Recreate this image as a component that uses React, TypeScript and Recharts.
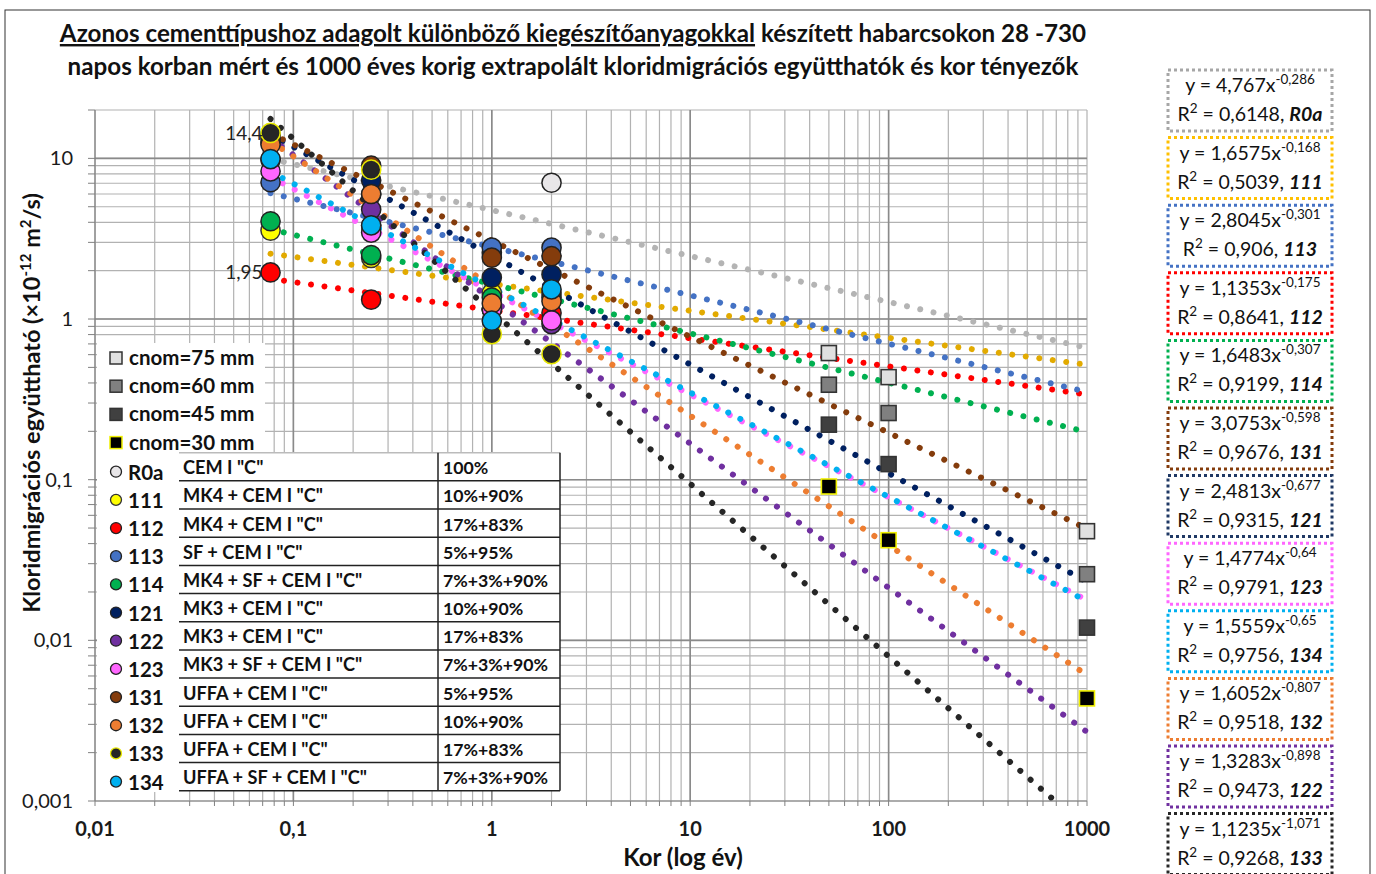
import React from 'react';
import { ComposedChart, Line, Scatter, XAxis, YAxis, CartesianGrid, ReferenceLine } from 'recharts';

// ---------- DATA ----------
const ages = [0.0767, 0.2466, 1, 2]; // 28 nap, 90 nap, 1 év, 2 év
const seriesNames = ["R0a", "111", "112", "113", "114", "121", "122", "123", "131", "132", "133", "134"];
const D_R0a = [9.8, 5.95, 2.6, 7.05];
const D_111 = [3.55, 2.4, 1.45, 1.45];
const D_112 = [1.95, 1.32, 1.15, 1.09];
const D_113 = [7.1, 3.8, 2.78, 2.78];
const D_114 = [4.06, 2.5, 1.36, 1.36];
const D_121 = [14.0, 7.3, 1.81, 1.89];
const D_122 = [12.5, 4.8, 1.15, 0.93];
const D_123 = [8.3, 3.45, 1.15, 0.98];
const D_131 = [13.3, 9.0, 2.41, 2.46];
const D_132 = [12.2, 6.0, 1.25, 1.29];
const D_133 = [14.4, 8.5, 0.806, 0.605];
const D_134 = [9.9, 3.83, 0.976, 1.53];
const measured = [D_R0a, D_111, D_112, D_113, D_114, D_121, D_122, D_123, D_131, D_132, D_133, D_134];

// trend lines (power law -> straight in log-log): start and end points
const trendStartX = [0.0767, 0.0767, 0.0767, 0.0767, 0.0767, 0.0767, 0.0767, 0.0767, 0.0767, 0.0767, 0.0767, 0.0767];
const trendStartY = [9.93, 2.55, 1.78, 6.08, 3.63, 14.1, 13.3, 7.64, 14.3, 12.75, 17.6, 8.26];
const trendEndX = [1000, 1000, 1000, 1000, 1000, 1000, 1000, 1000, 1000, 1000, 690, 1000];
const trendEndY = [0.661, 0.519, 0.339, 0.351, 0.198, 0.0231, 0.00269, 0.0178, 0.0494, 0.00609, 0.001, 0.0175];

const markerFill = ["#e8e6e8", "#ffff00", "#ff0000", "#4472c4", "#00b050", "#002060", "#7030a0", "#ff66ff", "#843c0c", "#ed7d31", "#262626", "#00b0f0"];
const markerStroke = ["#222", "#333", "#222", "#222", "#222", "#222", "#222", "#222", "#222", "#222", "#e8e800", "#222"];
const trendColor = ["#b4b4b4", "#e2aa00", "#ff0000", "#4472c4", "#00b050", "#002060", "#7030a0", "#ff66ff", "#843c0c", "#ed7d31", "#262626", "#00b0f0"];
const labelledSeries = ["112", "133"]; // first point labelled

const serviceLife = [50, 100, 1000];
const cnomLabels = ["cnom=75 mm", "cnom=60 mm", "cnom=45 mm", "cnom=30 mm"];
const Dreq_75 = [0.614, 0.435, 0.0478];
const Dreq_60 = [0.39, 0.26, 0.0258];
const Dreq_45 = [0.22, 0.125, 0.012];
const Dreq_30 = [0.0907, 0.042, 0.00435];
const Dreq = [Dreq_75, Dreq_60, Dreq_45, Dreq_30];
const cnomFill = ["#e0e0e0", "#808080", "#404040", "#000000"];
const cnomStroke = ["#333", "#333", "#333", "#f0f000"];

const mixComponents = ['CEM I "C"', 'MK4 + CEM I "C"', 'MK4 + CEM I "C"', 'SF + CEM I "C"', 'MK4 + SF + CEM I "C"', 'MK3 + CEM I "C"', 'MK3 + CEM I "C"', 'MK3 + SF + CEM I "C"', 'UFFA + CEM I "C"', 'UFFA + CEM I "C"', 'UFFA + CEM I "C"', 'UFFA + SF + CEM I "C"'];
const mixRatios = ["100%", "10%+90%", "17%+83%", "5%+95%", "7%+3%+90%", "10%+90%", "17%+83%", "7%+3%+90%", "5%+95%", "10%+90%", "17%+83%", "7%+3%+90%"];

const eqNames = ["R0a", "111", "113", "112", "114", "131", "121", "123", "134", "132", "122", "133"];
const eqA = ["4,767", "1,6575", "2,8045", "1,1353", "1,6483", "3,0753", "2,4813", "1,4774", "1,5559", "1,6052", "1,3283", "1,1235"];
const eqB = ["-0,286", "-0,168", "-0,301", "-0,175", "-0,307", "-0,598", "-0,677", "-0,64", "-0,65", "-0,807", "-0,898", "-1,071"];
const eqR2 = ["0,6148", "0,5039", "0,906", "0,8641", "0,9199", "0,9676", "0,9315", "0,9791", "0,9756", "0,9518", "0,9473", "0,9268"];
const eqColor = ["#a6a6a6", "#ffc000", "#4472c4", "#ff0000", "#00b050", "#843c0c", "#1f3864", "#ff66ff", "#00b0f0", "#ed7d31", "#7030a0", "#262626"];

const xGrid = [0.01, 0.02, 0.03, 0.04, 0.05, 0.06, 0.07, 0.08, 0.09, 0.1, 0.2, 0.3, 0.4, 0.5, 0.6, 0.7, 0.8, 0.9, 1, 2, 3, 4, 5, 6, 7, 8, 9, 10, 20, 30, 40, 50, 60, 70, 80, 90, 100, 200, 300, 400, 500, 600, 700, 800, 900, 1000];
const yGrid = [0.001, 0.002, 0.003, 0.004, 0.005, 0.006, 0.007, 0.008, 0.009, 0.01, 0.02, 0.03, 0.04, 0.05, 0.06, 0.07, 0.08, 0.09, 0.1, 0.2, 0.3, 0.4, 0.5, 0.6, 0.7, 0.8, 0.9, 1, 2, 3, 4, 5, 6, 7, 8, 9, 10, 20];
const xMajor = [0.01, 0.1, 1, 10, 100, 1000];
const xMajorLabels = ["0,01", "0,1", "1", "10", "100", "1000"];
const yMajor = [0.001, 0.01, 0.1, 1, 10];
const yMajorLabels = ["0,001", "0,01", "0,1", "1", "10"];

const titleUnderlined = "Azonos cementtípushoz adagolt különböző kiegészítőanyagokkal";
const titleRest = " készített habarcsokon 28 -730";
const titleLine2 = "napos korban mért és 1000 éves korig extrapolált kloridmigrációs együtthatók és kor tényezők";

// ---------- COMPONENT ----------
const FONT = "Lato, 'Open Sans', sans-serif";
const fmt = (v: number) => String(v).replace('.', ',');
const near = (a: number, b: number) => Math.abs(a - b) / b < 1e-6;

const XTick = (props: any) => {
  const { x, y, payload } = props;
  const i = xMajor.findIndex((v) => near(payload.value, v));
  if (i < 0) return <g />;
  return (
    <text x={x} y={y + 28} textAnchor="middle" fontFamily={FONT} fontWeight={700} fontSize={20} fill="#1a1a1a">
      {xMajorLabels[i]}
    </text>
  );
};
const YTick = (props: any) => {
  const { x, y, payload } = props;
  const i = yMajor.findIndex((v) => near(payload.value, v));
  if (i < 0) return <g />;
  return (
    <text x={x - 13} y={y + 7} textAnchor="end" fontFamily={FONT} fontSize={20} fill="#1a1a1a">
      {yMajorLabels[i]}
    </text>
  );
};

const makeCircle = (k: number) => (props: any) => {
  const { cx, cy, index, payload } = props;
  const showLabel = labelledSeries.includes(seriesNames[k]) && index === 0;
  return (
    <g>
      <circle cx={cx} cy={cy} r={9.6} fill={markerFill[k]} stroke={markerStroke[k]} strokeWidth={1.5} />
      {showLabel && (
        <text x={cx - 8} y={cy + 7} textAnchor="end" fontFamily={FONT} fontSize={19} fill="#222">
          {fmt(payload.y)}
        </text>
      )}
    </g>
  );
};
const makeSquare = (k: number) => (props: any) => {
  const { cx, cy } = props;
  return <rect x={cx - 7.5} y={cy - 7.5} width={15} height={15} fill={cnomFill[k]} stroke={cnomStroke[k]} strokeWidth={1.6} />;
};

export default function App() {
  const rowTop0 = 452.7;
  const rowH = 28.17;
  return (
    <div style={{ position: 'absolute', left: 0, top: 0, width: 1376, height: 874, background: '#fff', overflow: 'hidden' }}>
      <ComposedChart width={1376} height={874} margin={{ top: 110, right: 289, bottom: 33, left: 35 }}>
        <CartesianGrid stroke="#b2b2b2" strokeWidth={1.2} />
        <XAxis
          dataKey="x" type="number" scale="log" domain={[0.01, 1000]}
          ticks={xGrid} interval={0} tick={<XTick />} tickSize={5} height={40}
          axisLine={{ stroke: '#808080', strokeWidth: 1.2 }} tickLine={{ stroke: '#808080' }}
        />
        <YAxis
          type="number" scale="log" domain={[0.001, 20]}
          ticks={yGrid} interval={0} tick={<YTick />} tickSize={7} width={60}
          axisLine={{ stroke: '#808080', strokeWidth: 1.2 }} tickLine={{ stroke: '#808080' }}
        />
        {[0.1, 1, 10, 100].map((v) => (
          <ReferenceLine key={'vx' + v} x={v} stroke="#8a8a8a" strokeWidth={1.6} />
        ))}
        {[0.01, 0.1, 1, 10].map((v) => (
          <ReferenceLine key={'hy' + v} y={v} stroke="#8a8a8a" strokeWidth={1.6} />
        ))}
        {seriesNames.map((n, k) => (
          <Line
            key={'t' + n}
            data={[{ x: trendStartX[k], y: trendStartY[k] }, { x: trendEndX[k], y: trendEndY[k] }]}
            dataKey="y" type="linear" stroke={trendColor[k]} strokeWidth={6}
            strokeDasharray="0.01 13.6" strokeLinecap="round"
            dot={false} activeDot={false} isAnimationActive={false} legendType="none"
          />
        ))}
        {seriesNames.map((n, k) => (
          <Scatter
            key={'s' + n}
            data={ages.map((a, i) => ({ x: a, y: measured[k][i] }))}
            dataKey="y" shape={makeCircle(k)} isAnimationActive={false}
          />
        ))}
        {cnomLabels.map((n, k) => (
          <Scatter
            key={'c' + n}
            data={serviceLife.map((a, i) => ({ x: a, y: Dreq[k][i] }))}
            dataKey="y" shape={makeSquare(k)} isAnimationActive={false}
          />
        ))}
      </ComposedChart>

      <svg width={1376} height={874} style={{ position: 'absolute', left: 0, top: 0, pointerEvents: 'none' }}>
        {/* frame */}
        <rect x={5} y={10} width={1365} height={880} fill="none" stroke="#333" strokeWidth={1} />
        {/* title */}
        <text x={573} y={42} textAnchor="middle" fontFamily={FONT} fontWeight={700} fontSize={24.2} fill="#111">
          <tspan textDecoration="underline">{titleUnderlined}</tspan>
          <tspan>{titleRest}</tspan>
        </text>
        <text x={573} y={75} textAnchor="middle" fontFamily={FONT} fontWeight={700} fontSize={24.2} fill="#111">
          {titleLine2}
        </text>
        {/* axis titles */}
        <text x={683} y={866} textAnchor="middle" fontFamily={FONT} fontWeight={700} fontSize={24} fill="#111">Kor (log év)</text>
        <text transform="translate(40,403) rotate(-90)" textAnchor="middle" fontFamily={FONT} fontWeight={700} fontSize={23.5} fill="#111">
          Kloridmigrációs együttható (×10<tspan dy={-9} fontSize={15}>-12</tspan><tspan dy={9}> m</tspan><tspan dy={-9} fontSize={15}>2</tspan><tspan dy={9}>/s)</tspan>
        </text>

        {/* legend: cnom */}
        <rect x={97} y={343} width={168} height={110} fill="#fff" />
        <rect x={97} y={452} width={82} height={340} fill="#fff" />
        {cnomLabels.map((l, k) => (
          <g key={'lc' + k}>
            <rect x={110} y={352 + k * 28.2} width={12} height={12} fill={cnomFill[k]} stroke={cnomStroke[k]} strokeWidth={1.5} />
            <text x={129} y={365 + k * 28.2} fontFamily={FONT} fontWeight={700} fontSize={20.5} fill="#111">{l}</text>
          </g>
        ))}
        {/* legend: series + table */}
        <rect x={179} y={rowTop0} width={381} height={rowH * 12} fill="#fff" />
        {seriesNames.map((n, k) => {
          const top = rowTop0 + k * rowH;
          return (
            <g key={'ls' + n}>
              <circle cx={116} cy={top + 19} r={5.5} fill={markerFill[k]} stroke={markerStroke[k]} strokeWidth={1.3} />
              <text x={128} y={top + 27} fontFamily={FONT} fontWeight={700} fontSize={20.5} fill="#111">{n}</text>
              <text x={183} y={top + 21.5} fontFamily={FONT} fontWeight={700} fontSize={18.2} fill="#111">{mixComponents[k]}</text>
              <text x={443} y={top + 21.5} fontFamily={FONT} fontWeight={700} fontSize={17.7} fill="#111">{mixRatios[k]}</text>
            </g>
          );
        })}
        {Array.from({ length: 13 }).map((_, k) => (
          <line key={'tl' + k} x1={179} x2={560} y1={rowTop0 + k * rowH} y2={rowTop0 + k * rowH} stroke={k === 0 ? '#bbb' : '#222'} strokeWidth={1.5} />
        ))}
        <line x1={438} x2={438} y1={rowTop0} y2={rowTop0 + 12 * rowH} stroke="#222" strokeWidth={1.5} />
        <line x1={560} x2={560} y1={rowTop0} y2={rowTop0 + 12 * rowH} stroke="#222" strokeWidth={1.5} />

        {/* equation boxes */}
        {eqNames.map((n, k) => {
          const top = 70 + k * 67.6;
          return (
            <g key={'eq' + n}>
              <rect x={1168} y={top} width={164} height={61} fill="#fff" stroke={eqColor[k]} strokeWidth={3} strokeDasharray="3 3" />
              <text x={1250} y={top + 22} textAnchor="middle" fontFamily={FONT} fontSize={19.5} fill="#111">
                y = {eqA[k]}x<tspan dy={-8} fontSize={13.5}>{eqB[k]}</tspan>
              </text>
              <text x={1250} y={top + 51} textAnchor="middle" fontFamily={FONT} fontSize={19.5} fill="#111">
                R<tspan dy={-8} fontSize={13.5}>2</tspan><tspan dy={8}> = {eqR2[k]}, </tspan><tspan fontWeight={700} fontStyle="italic">{n}</tspan>
              </text>
            </g>
          );
        })}
      </svg>
    </div>
  );
}
